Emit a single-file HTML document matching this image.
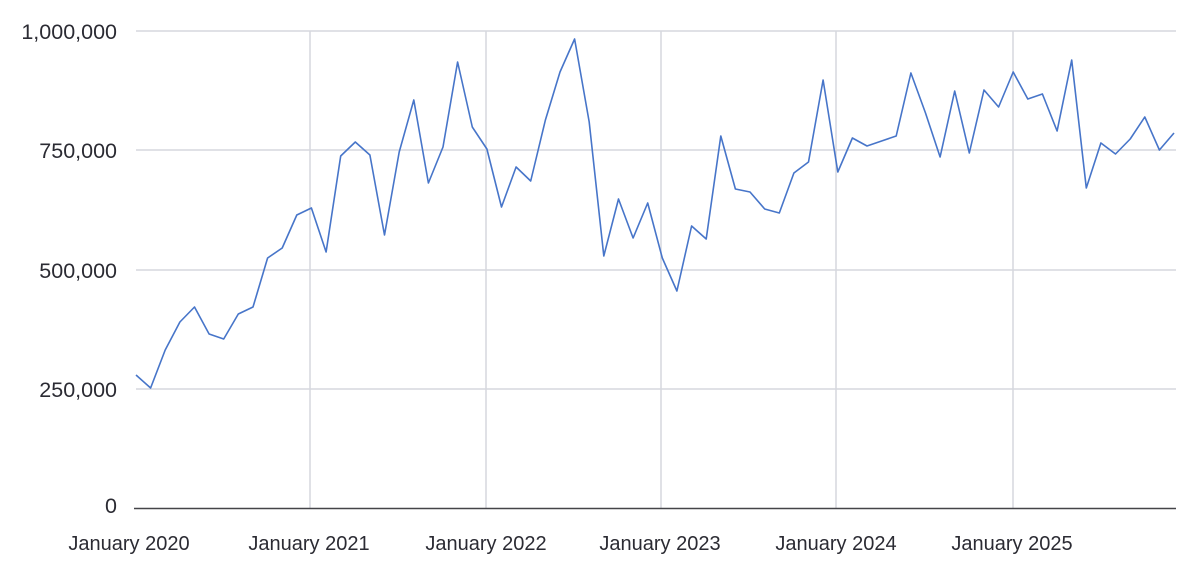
<!DOCTYPE html>
<html><head><meta charset="utf-8"><style>
html,body{margin:0;padding:0;background:#fff;}
svg{display:block;}
text{font-family:"Liberation Sans",sans-serif;fill:#2b2b33;}
.y{font-size:21.5px;}
.x{font-size:20px;}
</style></head><body>
<svg width="1200" height="572" viewBox="0 0 1200 572">
<g stroke="#d6d7de" stroke-width="1.5">
<line x1="136" y1="31" x2="1176" y2="31"/>
<line x1="136" y1="150" x2="1176" y2="150"/>
<line x1="136" y1="270" x2="1176" y2="270"/>
<line x1="136" y1="389" x2="1176" y2="389"/>
<line x1="310" y1="31" x2="310" y2="508"/>
<line x1="486" y1="31" x2="486" y2="508"/>
<line x1="661" y1="31" x2="661" y2="508"/>
<line x1="836" y1="31" x2="836" y2="508"/>
<line x1="1013" y1="31" x2="1013" y2="508"/>
</g>
<line x1="134" y1="508.5" x2="1176" y2="508.5" stroke="#444448" stroke-width="1.6"/>
<g text-anchor="end" class="y">
<text x="117" y="39">1,000,000</text>
<text x="117" y="158">750,000</text>
<text x="117" y="278">500,000</text>
<text x="117" y="397">250,000</text>
<text x="117" y="513">0</text>
</g>
<g text-anchor="middle" class="x">
<text x="129" y="550">January 2020</text>
<text x="309" y="550">January 2021</text>
<text x="486" y="550">January 2022</text>
<text x="660" y="550">January 2023</text>
<text x="836" y="550">January 2024</text>
<text x="1012" y="550">January 2025</text>
</g>
<polyline id="l" fill="none" stroke="#4775c9" stroke-width="1.6" stroke-linejoin="round"/>
<script>
var y=[375,388,350,322,307,334,339,314,307,258,248,215,208,252,156,142,155,235,152,100,183,147,62,127,149,207,167,181,120,72,39,122,256,199,238,203,258,291,226,239,136,189,192,209,213,173,162,80,172,138,146,141,136,73,113,157,91,153,90,107,72,99,94,131,60,188,143,154,139,117,150,133];
var p=y.map(function(v,i){return (136+i*14.62).toFixed(1)+","+v;}).join(" ");
document.getElementById("l").setAttribute("points",p);
</script>
</svg>
</body></html>
